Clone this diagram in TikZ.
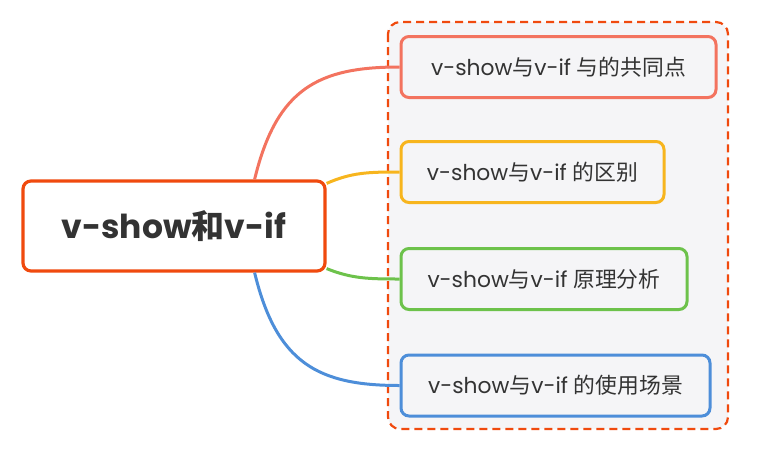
\documentclass[tikz,border=0pt]{standalone}
\usepackage{fontspec}
\setmainfont{Poppins}
\newfontfamily\cjk{Noto Sans CJK SC}
\usepackage{xcolor}
\usepackage{tikz}
\usetikzlibrary{positioning}

\definecolor{rootred}{HTML}{F04A0E}
\definecolor{topicred}{HTML}{F3735F}
\definecolor{topicyellow}{HTML}{F7B51E}
\definecolor{topicgreen}{HTML}{6DC24B}
\definecolor{topicblue}{HTML}{4D8ED9}
\definecolor{textgray}{HTML}{333333}
\definecolor{groupfill}{HTML}{F5F5F7}

\begin{document}
\begin{tikzpicture}[x=1pt,y=-1pt]
	\tikzstyle{rootbox}=[draw=rootred,line width=3.2pt,rounded corners=8pt,fill=white,
		minimum width=302pt,minimum height=90pt,text=textgray,font=\fontsize{33}{40}\selectfont\bfseries]
	\tikzstyle{topicbox}=[line width=3pt,rounded corners=8pt,fill=groupfill,
		minimum height=61pt,text=textgray,font=\fontsize{21.8}{26}\selectfont]
	\tikzstyle{groupbox}=[draw=rootred,line width=2.2pt,dashed,dash pattern=on 8pt off 5pt,
		rounded corners=12pt,fill=groupfill]
	\tikzstyle{branch}=[line width=3pt]
	\useasboundingbox (0,0) rectangle (770,450);
	\draw[groupbox] (388,22) rectangle (728,429);
	\node[rootbox](root) at (174,226){v-show{\cjk 和}v-if};
	\node[topicbox,draw=topicred,minimum width=315pt](t1) at (558.5,67){v-show{\cjk 与}v-if {\cjk 与的共同点}};
	\node[topicbox,draw=topicyellow,minimum width=263pt](t2) at (532.5,172){v-show{\cjk 与}v-if {\cjk 的区别}};
	\node[topicbox,draw=topicgreen,minimum width=286pt](t3) at (544,279){v-show{\cjk 与}v-if {\cjk 原理分析}};
	\node[topicbox,draw=topicblue,minimum width=309pt](t4) at (555.5,385.5){v-show{\cjk 与}v-if {\cjk 的使用场景}};
	\draw[branch,topicred] ([xshift=-72pt]root.north east) .. controls +(22,-91) and +(-81,0) .. (t1.west);
	\draw[branch,topicyellow] ([yshift=-4pt]root.north east) .. controls +(25,-11) and +(-31,0) .. (t2.west);
	\draw[branch,topicgreen] ([yshift=4pt]root.south east) .. controls +(25,10) and +(-31,0) .. (t3.west);
	\draw[branch,topicblue] ([xshift=-72pt]root.south east) .. controls +(22,91) and +(-81,0) .. (t4.west);
\end{tikzpicture}
\end{document}
